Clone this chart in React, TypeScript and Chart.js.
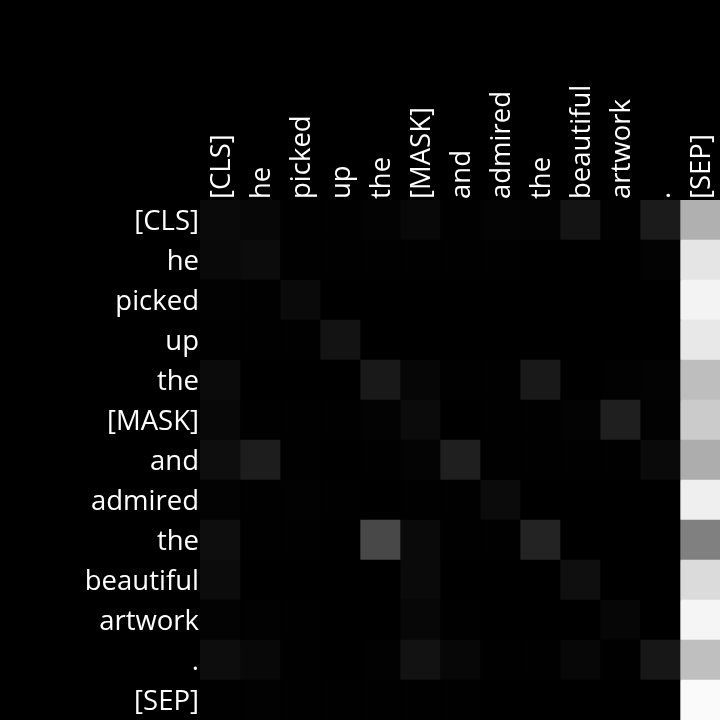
import React, { useEffect, useRef } from "react";
import { Chart, registerables } from "chart.js";

Chart.register(...registerables);

const tokens = ["[CLS]", "he", "picked", "up", "the", "[MASK]", "and", "admired", "the", "beautiful", "artwork", ".", "[SEP]"];

const row0 = [0.039, 0.027, 0.004, 0.004, 0.012, 0.031, 0.004, 0.016, 0.012, 0.078, 0.004, 0.106, 0.69];
const row1 = [0.035, 0.047, 0.004, 0.004, 0.004, 0.004, 0.004, 0.004, 0, 0, 0, 0.012, 0.898];
const row2 = [0.008, 0.004, 0.039, 0, 0, 0, 0, 0, 0, 0, 0, 0, 0.953];
const row3 = [0.004, 0.004, 0.004, 0.075, 0, 0, 0, 0, 0, 0, 0, 0, 0.91];
const row4 = [0.043, 0, 0, 0, 0.098, 0.024, 0.004, 0.004, 0.098, 0, 0.008, 0.012, 0.745];
const row5 = [0.031, 0.004, 0.004, 0.004, 0.012, 0.043, 0, 0.004, 0.004, 0.012, 0.122, 0.008, 0.796];
const row6 = [0.055, 0.114, 0.004, 0, 0.004, 0.016, 0.122, 0.004, 0.004, 0.004, 0.004, 0.039, 0.678];
const row7 = [0.012, 0.004, 0.008, 0.004, 0, 0.004, 0.004, 0.043, 0, 0, 0, 0, 0.937];
const row8 = [0.055, 0.004, 0.004, 0, 0.282, 0.039, 0.004, 0.004, 0.137, 0, 0, 0, 0.502];
const row9 = [0.047, 0, 0, 0, 0, 0.039, 0, 0, 0, 0.059, 0, 0, 0.859];
const row10 = [0.012, 0.008, 0.004, 0, 0, 0.027, 0.004, 0, 0, 0, 0.024, 0, 0.961];
const row11 = [0.051, 0.031, 0.004, 0, 0.008, 0.071, 0.027, 0.004, 0.004, 0.027, 0.004, 0.09, 0.749];
const row12 = [0.004, 0.008, 0.004, 0.004, 0.004, 0.004, 0.004, 0, 0, 0, 0, 0, 0.98];

const attention = [row0, row1, row2, row3, row4, row5, row6, row7, row8, row9, row10, row11, row12];

function gray(v: number): string {
  const g = Math.round(Math.max(0, Math.min(1, v)) * 255);
  return `rgb(${g},${g},${g})`;
}

function zeroPadding(scale: any) {
  scale.paddingLeft = 0;
  scale.paddingRight = 0;
  scale.paddingTop = 0;
  scale.paddingBottom = 0;
}

export default function App() {
  const ref = useRef<HTMLCanvasElement>(null);

  useEffect(() => {
    document.body.style.margin = "0";
    document.body.style.background = "#000";
    const canvas = ref.current;
    if (!canvas) return;

    const datasets = tokens.map((_, c) => ({
      label: tokens[c],
      data: attention.map(() => [c, c + 1]),
      backgroundColor: attention.map((row) => gray(row[c])),
      borderWidth: 0,
      barPercentage: 1,
      categoryPercentage: 1,
      grouped: false,
      xAxisID: "x",
      yAxisID: "y",
    }));

    const font = { family: "'Open Sans', 'Noto Sans', sans-serif", size: 27.5 };

    const bg = {
      id: "bg",
      beforeDraw(chart: any) {
        const ctx = chart.ctx;
        ctx.save();
        ctx.fillStyle = "#000";
        ctx.fillRect(0, 0, chart.width, chart.height);
        ctx.restore();
      },
    };

    const chart = new Chart(canvas, {
      type: "bar",
      data: { labels: tokens, datasets: datasets as any },
      options: {
        indexAxis: "y",
        animation: false,
        responsive: false,
        maintainAspectRatio: false,
        layout: { padding: 0 },
        plugins: { legend: { display: false }, tooltip: { enabled: false } },
        scales: {
          x: { type: "linear", min: 0, max: tokens.length, display: false },
          x2: {
            type: "category",
            labels: tokens,
            position: "top",
            offset: true,
            grid: { display: false, drawTicks: false },
            border: { display: false },
            ticks: {
              color: "#fff",
              font,
              autoSkip: false,
              maxRotation: 90,
              minRotation: 90,
              padding: 1,
              labelOffset: 35,
            },
            afterFit(scale: any) {
              scale.height = 200;
              zeroPadding(scale);
            },
          },
          y: {
            type: "category",
            offset: true,
            grid: { display: false, drawTicks: false },
            border: { display: false },
            ticks: { color: "#fff", font, autoSkip: false, padding: 1, labelOffset: 2 },
            afterFit(scale: any) {
              scale.width = 200;
              zeroPadding(scale);
            },
          },
        },
      } as any,
      plugins: [bg],
    });

    return () => chart.destroy();
  }, []);

  return (
    <div style={{ width: 720, height: 720, background: "#000" }}>
      <canvas ref={ref} width={720} height={720} style={{ display: "block" }} />
    </div>
  );
}
